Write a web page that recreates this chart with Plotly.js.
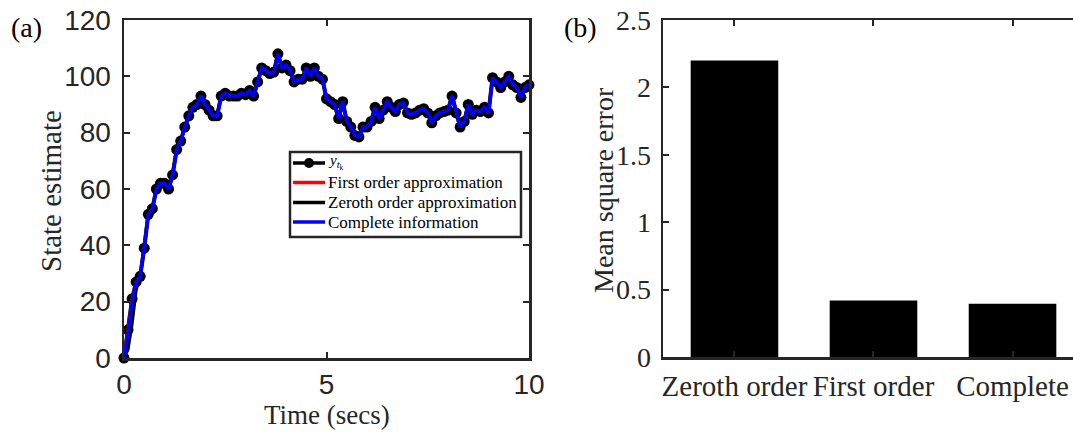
<!DOCTYPE html>
<html>
<head>
<meta charset="utf-8">
<script src="https://cdn.plot.ly/plotly-3.0.1.min.js"></script>
<style>html,body{margin:0;padding:0;background:#fff;}#chart{width:1073px;height:433px;}</style>
</head>
<body>
<div id="chart"></div>
<script>
// ---- Data ----
const timeSecs = [0.0,0.1,0.2,0.3,0.4,0.5,0.6,0.7,0.8,0.9,1.0,1.1,1.2,1.3,1.4,1.5,1.6,1.7,1.8,1.9,2.0,2.1,2.2,2.3,2.4,2.5,2.6,2.7,2.8,2.9,3.0,3.1,3.2,3.3,3.4,3.5,3.6,3.7,3.8,3.9,4.0,4.1,4.2,4.3,4.4,4.5,4.6,4.7,4.8,4.9,5.0,5.1,5.2,5.3,5.4,5.5,5.6,5.7,5.8,5.9,6.0,6.1,6.2,6.3,6.4,6.5,6.6,6.7,6.8,6.9,7.0,7.1,7.2,7.3,7.4,7.5,7.6,7.7,7.8,7.9,8.0,8.1,8.2,8.3,8.4,8.5,8.6,8.7,8.8,8.9,9.0,9.1,9.2,9.3,9.4,9.5,9.6,9.7,9.8,9.9,10.0];
const yObserved = [0,10,21,27,29,39,51,53,60,62,62,60,65,74,77,82,86,89,90,93,90,88,86,86,93,94,93,93,93,94,93.5,95,93,98,103,102,101,101.5,108,103,104,102,98,99,99,103,100,103,100,99,92,91,90,85,91,84,82,79,78.5,82,82,84,89,85,88,91,89,87.5,90,90.5,87,86.5,87,88,88.5,87,83.5,86,87,87.5,88,93,87,82,84,90,86.5,88,87.5,89,87,99.5,98,96,98,100,97,96,92.5,96,97];
const firstOrderEst = [0,10,21,27,29,39,51,53,60,62,62,60,65,74,77,82,86,89,90,93,90,88,86,86,93,94,93,93,93,94,93.5,95,93,98,103,102,101,101.5,108,103,104,102,98,99,99,103,100,103,100,99,92,91,90,85,91,84,82,79,78.5,82,82,84,89,85,88,91,89,87.5,90,90.5,87,86.5,87,88,88.5,87,83.5,86,87,87.5,88,93,87,82,84,90,86.5,88,87.5,89,87,99.5,98,96,98,100,97,96,92.5,96,97];
const zerothOrderEst = [0,3,12,24,29,39,51,53,60,62,62,60,65,74,77,82,86,89,90,93,90,88,86,86,93,94,93,93,93,94,93.5,95,93,98,103,102,101,101.5,108,103,104,102,98,99,99,103,100,103,100,99,92,91,90,85,91,84,82,79,78.5,82,82,84,89,85,88,91,89,87.5,90,90.5,87,86.5,87,88,88.5,87,83.5,86,87,87.5,88,93,87,82,84,90,86.5,88,87.5,89,87,99.5,98,96,98,100,97,96,92.5,96,97];
const completeInfoEst = [0,9,20,27,29,39,51,53,60,62,62,60,65,74,77,82,86,89,90,93,90,88,86,86,93,94,93,93,93,94,93.5,95,93,98,103,102,101,101.5,108,103,104,102,98,99,99,103,100,103,100,99,92,91,90,85,91,84,82,79,78.5,82,82,84,89,85,88,91,89,87.5,90,90.5,87,86.5,87,88,88.5,87,83.5,86,87,87.5,88,93,87,82,84,90,86.5,88,87.5,89,87,99.5,98,96,98,100,97,96,92.5,96,97];

const barCategories = ["Zeroth order", "First order", "Complete"];
const barPositions = [1, 2, 3];
const mseValues = [2.2, 0.42, 0.395];

const leftYTicks = [0, 20, 40, 60, 80, 100, 120];
const leftXTicks = [0, 5, 10];
const rightYTicks = [0, 0.5, 1, 1.5, 2, 2.5];
const rightYTickText = ["0", "0.5", "1", "1.5", "2", "2.5"];

const legendLabels = ['<i>y</i><sub><i>t</i><sub>k</sub></sub>', 'First order approximation', 'Zeroth order approximation', 'Complete information'];
const legendColors = ['#000000', '#ff0000', '#000000', '#0000ff'];

// ---- Figure ----
const W = 1073, H = 433;
const axCol = '#262626';
const serif = "'Liberation Serif', 'Times New Roman', serif";
const sans = "'Liberation Sans', Arial, Helvetica, sans-serif";
const px = v => v / W;
const py = v => 1 - v / H;

const traces = [
  {x: timeSecs, y: yObserved, type: 'scatter', mode: 'lines+markers',
   name: legendLabels[0],
   line: {color: legendColors[0], width: 4}, marker: {color: legendColors[0], size: 11},
   cliponaxis: false, xaxis: 'x', yaxis: 'y'},
  {x: timeSecs, y: firstOrderEst, type: 'scatter', mode: 'lines',
   name: legendLabels[1], line: {color: legendColors[1], width: 3},
   cliponaxis: false, xaxis: 'x', yaxis: 'y'},
  {x: timeSecs, y: zerothOrderEst, type: 'scatter', mode: 'lines',
   name: legendLabels[2], line: {color: legendColors[2], width: 3},
   cliponaxis: false, xaxis: 'x', yaxis: 'y'},
  {x: timeSecs, y: completeInfoEst, type: 'scatter', mode: 'lines',
   name: legendLabels[3], line: {color: legendColors[3], width: 3.5},
   cliponaxis: false, xaxis: 'x', yaxis: 'y'},
  {x: barPositions, y: mseValues, type: 'bar', width: 0.63,
   marker: {color: '#000', line: {width: 0}},
   xaxis: 'x2', yaxis: 'y2'}
];

const commonAxis = {
  showline: true, linecolor: axCol, linewidth: 2.5, mirror: 'ticks',
  ticks: 'inside', ticklen: 6, tickwidth: 2, tickcolor: axCol,
  showgrid: false, zeroline: false, fixedrange: true
};

// Legend box drawn as paper shapes + annotations (MATLAB-style compact legend)
const lgBox = {x0: 290, x1: 521, y0: 152, y1: 237};
const rowY = [163, 182.5, 202.5, 222];
const shapes = [
  {type: 'rect', xref: 'paper', yref: 'paper', x0: px(lgBox.x0), x1: px(lgBox.x1),
   y0: py(lgBox.y1), y1: py(lgBox.y0), line: {color: axCol, width: 2.5},
   fillcolor: '#ffffff', layer: 'above'}
];
const annotations = [];
rowY.forEach((ry, i) => {
  shapes.push({type: 'line', xref: 'paper', yref: 'paper', x0: px(293), x1: px(325),
    y0: py(ry), y1: py(ry), line: {color: legendColors[i], width: 3.5}, layer: 'above'});
  annotations.push({text: legendLabels[i], xref: 'paper', yref: 'paper', x: px(326), y: py(i === 0 ? ry - 1 : ry),
    xanchor: 'left', yanchor: 'middle', showarrow: false,
    font: {family: serif, size: i === 0 ? 15 : 17, color: '#000'}});
});
shapes.push({type: 'circle', xref: 'paper', yref: 'paper', x0: px(304), x1: px(314),
  y0: py(rowY[0] + 5), y1: py(rowY[0] - 5), line: {color: '#000', width: 0},
  fillcolor: '#000', layer: 'above'});

annotations.push(
  {text: 'Time (secs)', xref: 'paper', yref: 'paper', x: px(327), y: py(415),
   xanchor: 'center', yanchor: 'middle', showarrow: false,
   font: {family: serif, size: 27, color: axCol}},
  {text: 'State estimate', xref: 'paper', yref: 'paper', x: px(51), y: py(191),
   xanchor: 'center', yanchor: 'middle', showarrow: false, textangle: -90,
   font: {family: serif, size: 29, color: axCol}},
  {text: 'Mean square error', xref: 'paper', yref: 'paper', x: px(603), y: py(190),
   xanchor: 'center', yanchor: 'middle', showarrow: false, textangle: -90,
   font: {family: serif, size: 28, color: axCol}},
  {text: '(a)', xref: 'paper', yref: 'paper', x: px(26), y: py(27),
   xanchor: 'center', yanchor: 'middle', showarrow: false,
   font: {family: serif, size: 28, color: '#000'}},
  {text: '(b)', xref: 'paper', yref: 'paper', x: px(580), y: py(27),
   xanchor: 'center', yanchor: 'middle', showarrow: false,
   font: {family: serif, size: 28, color: '#000'}}
);

const layout = {
  width: W, height: H,
  margin: {l: 0, r: 0, t: 0, b: 0},
  paper_bgcolor: '#fff', plot_bgcolor: '#fff',
  showlegend: false,
  xaxis: Object.assign({}, commonAxis, {
    domain: [px(124), px(529)], range: [0, 10], anchor: 'y',
    tickmode: 'array', tickvals: leftXTicks, ticktext: leftXTicks.map(String),
    tickfont: {family: sans, size: 28, color: axCol}, ticklabelstandoff: 0
  }),
  yaxis: Object.assign({}, commonAxis, {
    domain: [1 - 358 / H, 1 - 20 / H], range: [0, 120], anchor: 'x',
    tickmode: 'array', tickvals: leftYTicks, ticktext: leftYTicks.map(String),
    tickfont: {family: sans, size: 28, color: axCol}, ticklabelstandoff: 5
  }),
  xaxis2: Object.assign({}, commonAxis, {
    domain: [px(663), 1], range: [0.486, 3.435], anchor: 'y2',
    tickmode: 'array', tickvals: barPositions, ticktext: barCategories,
    tickfont: {family: serif, size: 29, color: axCol}, ticklabelstandoff: 2
  }),
  yaxis2: Object.assign({}, commonAxis, {
    domain: [1 - 357 / H, 1 - 20 / H], range: [0, 2.5], anchor: 'x2',
    mirror: false,
    tickmode: 'array', tickvals: rightYTicks, ticktext: rightYTickText,
    tickfont: {family: serif, size: 28, color: axCol}, ticklabelstandoff: 4
  }),
  shapes: shapes,
  annotations: annotations
};

Plotly.newPlot('chart', traces, layout, {displayModeBar: false, staticPlot: true});
</script>
</body>
</html>
